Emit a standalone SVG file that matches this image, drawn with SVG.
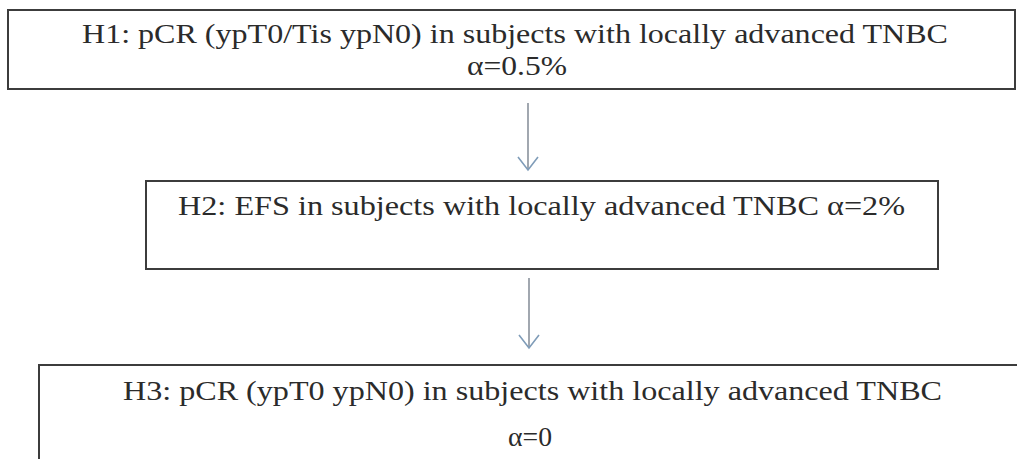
<svg xmlns="http://www.w3.org/2000/svg" width="1017" height="459" viewBox="0 0 1017 459">
<defs>
<style>
.box{fill:#fff;stroke:#3c3c3c;stroke-width:2}
.t{font-family:"Liberation Serif","Times New Roman",serif;font-size:27px;fill:#2b2b2b}
.c{stroke:#8a929c;stroke-width:1.6;fill:none}
.h{stroke:#7f9cb8;stroke-width:1.6;fill:none}
</style>
</defs>
<rect width="1017" height="459" fill="#fff"/>
<g id="h1">
<rect class="box" x="8" y="10" width="1007" height="79"/>
<text class="t" x="82" y="43" textLength="866" lengthAdjust="spacingAndGlyphs">H1: pCR (ypT0/Tis ypN0) in subjects with locally advanced TNBC</text>
<text class="t" x="467" y="75" textLength="100" lengthAdjust="spacingAndGlyphs">α=0.5%</text>
</g>
<g id="h2">
<rect class="box" x="146" y="181" width="792" height="88"/>
<text class="t" x="178" y="215" textLength="727" lengthAdjust="spacingAndGlyphs">H2: EFS in subjects with locally advanced TNBC α=2%</text>
</g>
<g id="h3">
<rect class="box" x="39" y="365" width="990" height="110"/>
<text class="t" x="123" y="400" textLength="819" lengthAdjust="spacingAndGlyphs">H3: pCR (ypT0 ypN0) in subjects with locally advanced TNBC</text>
<text class="t" x="508" y="446" textLength="44" lengthAdjust="spacingAndGlyphs">α=0</text>
</g>
<g id="connectors">
<line class="c" x1="528" y1="103" x2="528" y2="170"/>
<polyline class="h" points="518,157 528,170 538,157"/>
<line class="c" x1="529" y1="278" x2="529" y2="348"/>
<polyline class="h" points="519,335 529,348 539,335"/>
</g>
</svg>
